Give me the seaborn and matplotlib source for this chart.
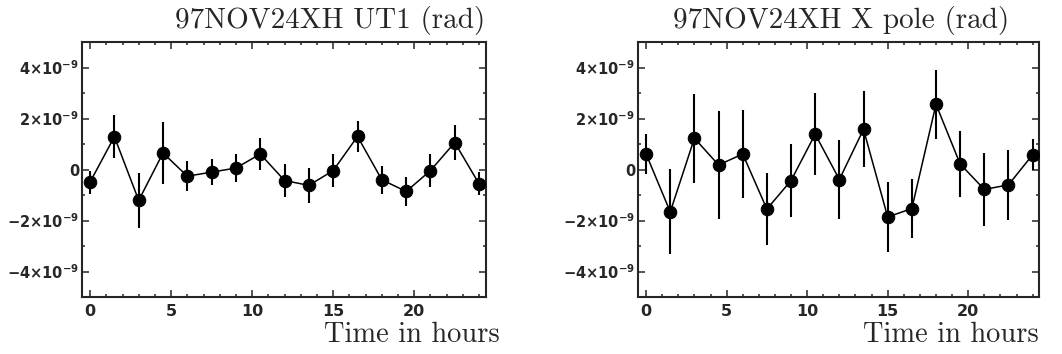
import numpy as np
import pandas as pd
import matplotlib
matplotlib.use('Agg')
import matplotlib.pyplot as plt
import seaborn as sns
from matplotlib.ticker import MultipleLocator, FuncFormatter

# 데이터 (단위: 1e-9 rad)
hours = [0, 1.5, 3, 4.5, 6, 7.5, 9, 10.5, 12, 13.5, 15, 16.5, 18, 19.5, 21, 22.5, 24]
ut1_val = [-0.49, 1.29, -1.21, 0.65, -0.26, -0.10, 0.06, 0.61, -0.43, -0.62, -0.04,
           1.30, -0.40, -0.86, -0.04, 1.06, -0.56]
ut1_err = [0.45, 0.85, 1.07, 1.20, 0.60, 0.50, 0.55, 0.64, 0.66, 0.69, 0.64,
           0.60, 0.55, 0.57, 0.65, 0.67, 0.45]
xpole_val = [0.61, -1.66, 1.23, 0.18, 0.61, -1.55, -0.43, 1.39, -0.39, 1.58, -1.86,
             -1.53, 2.56, 0.22, -0.78, -0.60, 0.58]
xpole_err = [0.78, 1.67, 1.74, 2.13, 1.72, 1.42, 1.42, 1.60, 1.54, 1.49, 1.38,
             1.15, 1.36, 1.30, 1.43, 1.36, 0.60]
scale = 1e-9

titles = ['97NOV24XH UT1 (rad)', '97NOV24XH X pole (rad)']
xlabel = 'Time in hours'

sns.set_style('ticks')
plt.rcParams['mathtext.fontset'] = 'dejavusans'


def fmt_y(v, pos):
    k = int(round(v / scale))
    if k == 0:
        return '0'
    return r'$\mathbf{%d{\times}10^{-9}}$' % k


fig = plt.figure(figsize=(10.62, 3.54), dpi=100)
ax1 = fig.add_axes([0.0772, 0.161, 0.380, 0.720])
ax2 = fig.add_axes([0.6008, 0.161, 0.3776, 0.720])

panels = [
    (ax1, ut1_val, ut1_err, titles[0], 0.614, 1.035),
    (ax2, xpole_val, xpole_err, titles[1], 0.506, 1.0),
]

for ax, vals, errs, title, tx, lx in panels:
    df = pd.DataFrame({'t': hours, 'v': np.array(vals) * scale,
                       'e': np.array(errs) * scale})
    ax.errorbar(df['t'], df['v'], yerr=df['e'], fmt='none', ecolor='black',
                elinewidth=1.5, capsize=0, zorder=2)
    sns.lineplot(data=df, x='t', y='v', ax=ax, color='black', lw=1.1,
                 marker='o', markersize=9, markeredgecolor='black',
                 markerfacecolor='black', zorder=3)

    ax.set_xlim(-0.5, 24.4)
    ax.set_ylim(-5e-9, 5e-9)
    ax.xaxis.set_major_locator(MultipleLocator(5))
    ax.xaxis.set_minor_locator(MultipleLocator(1))
    ax.yaxis.set_major_locator(MultipleLocator(2e-9))
    ax.yaxis.set_minor_locator(MultipleLocator(1e-9))
    ax.yaxis.set_major_formatter(FuncFormatter(fmt_y))
    ax.tick_params(which='both', direction='in', top=True, right=True, width=1.1)
    ax.tick_params(axis='x', which='major', length=5, labelsize=11.5, pad=5)
    ax.tick_params(axis='y', which='major', length=5, labelsize=10.5, pad=2)
    ax.tick_params(which='minor', length=2.5)
    for lab in ax.get_xticklabels() + ax.get_yticklabels():
        lab.set_fontweight('bold')
    for sp in ax.spines.values():
        sp.set_linewidth(1.5)
        sp.set_visible(True)
    ax.set_xlabel('')
    ax.set_ylabel('')

    ax.text(tx, 1.055, title, transform=ax.transAxes, ha='center', va='baseline',
            family='cmr10', fontsize=21)
    ax.text(lx, -0.176, xlabel, transform=ax.transAxes, ha='right', va='baseline',
            family='cmr10', fontsize=20.5)

plt.savefig('out.png', dpi=100)
